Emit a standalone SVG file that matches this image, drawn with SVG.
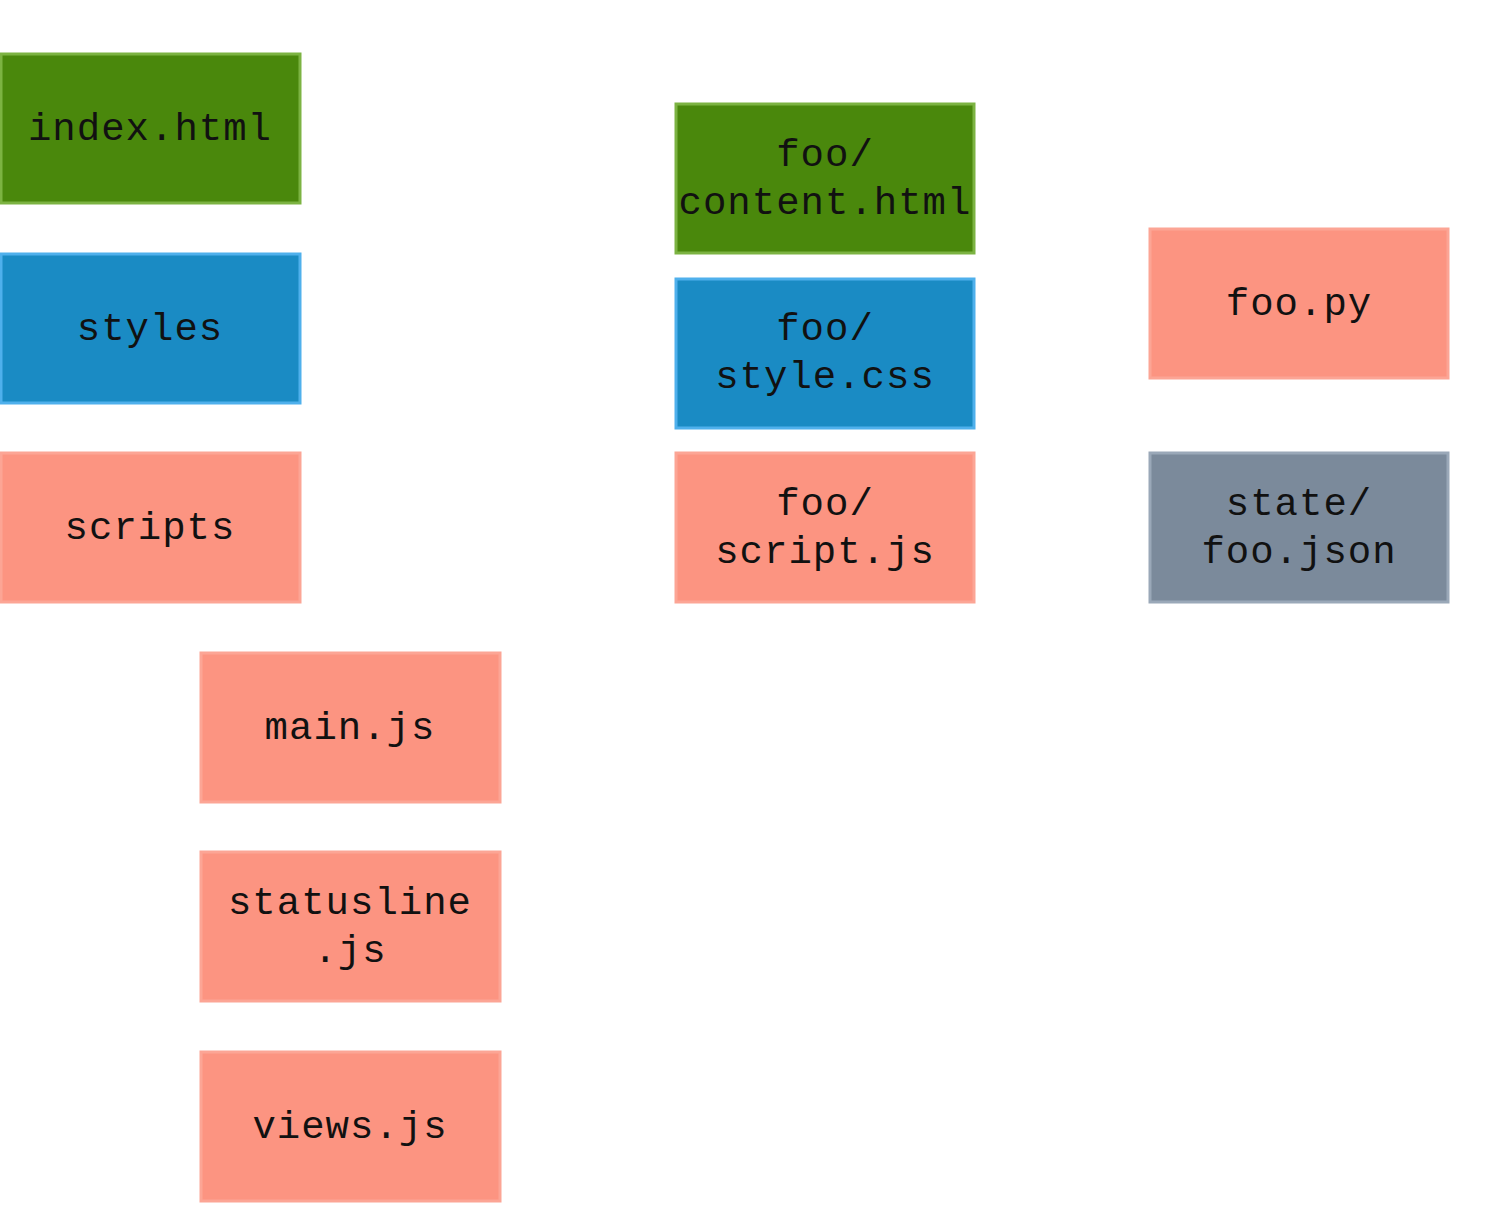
<svg xmlns="http://www.w3.org/2000/svg" width="1500" height="1205" viewBox="0 0 1500 1205">
<style>
rect{stroke-width:3}
.g{fill:#4a880c;stroke:#7cb342}
.b{fill:#1a8bc4;stroke:#4fb0ec}
.s{fill:#fc9481;stroke:#fca595}
.y{fill:#7b8a9b;stroke:#9aa8b8}
text{font-family:"Liberation Mono",monospace;font-size:39px;fill:#111;text-anchor:middle;letter-spacing:1px}
</style>
<rect width="1500" height="1205" fill="#fff" style="stroke:none"/>
<g id="index"><rect class="g" x="1" y="54" width="299" height="149"/><text x="150" y="140">index.html</text></g>
<g id="styles"><rect class="b" x="1" y="254" width="299" height="149"/><text x="150" y="340">styles</text></g>
<g id="scripts"><rect class="s" x="1" y="453" width="299" height="149"/><text x="150" y="539">scripts</text></g>
<g id="main"><rect class="s" x="201" y="653" width="299" height="149"/><text x="350" y="739">main.js</text></g>
<g id="statusline"><rect class="s" x="201" y="852" width="299" height="149"/><text x="350" y="914">statusline</text><text x="350" y="962">.js</text></g>
<g id="views"><rect class="s" x="201" y="1052" width="299" height="149"/><text x="350" y="1138">views.js</text></g>
<g id="content"><rect class="g" x="676" y="104" width="298" height="149"/><text x="825" y="166">foo/</text><text x="825" y="214">content.html</text></g>
<g id="stylecss"><rect class="b" x="676" y="279" width="298" height="149"/><text x="825" y="340">foo/</text><text x="825" y="388">style.css</text></g>
<g id="scriptjs"><rect class="s" x="676" y="453" width="298" height="149"/><text x="825" y="515">foo/</text><text x="825" y="563">script.js</text></g>
<g id="foopy"><rect class="s" x="1150" y="229" width="298" height="149"/><text x="1299" y="315">foo.py</text></g>
<g id="state"><rect class="y" x="1150" y="453" width="298" height="149"/><text x="1299" y="515">state/</text><text x="1299" y="563">foo.json</text></g>
<g id="connectors"/>
</svg>
